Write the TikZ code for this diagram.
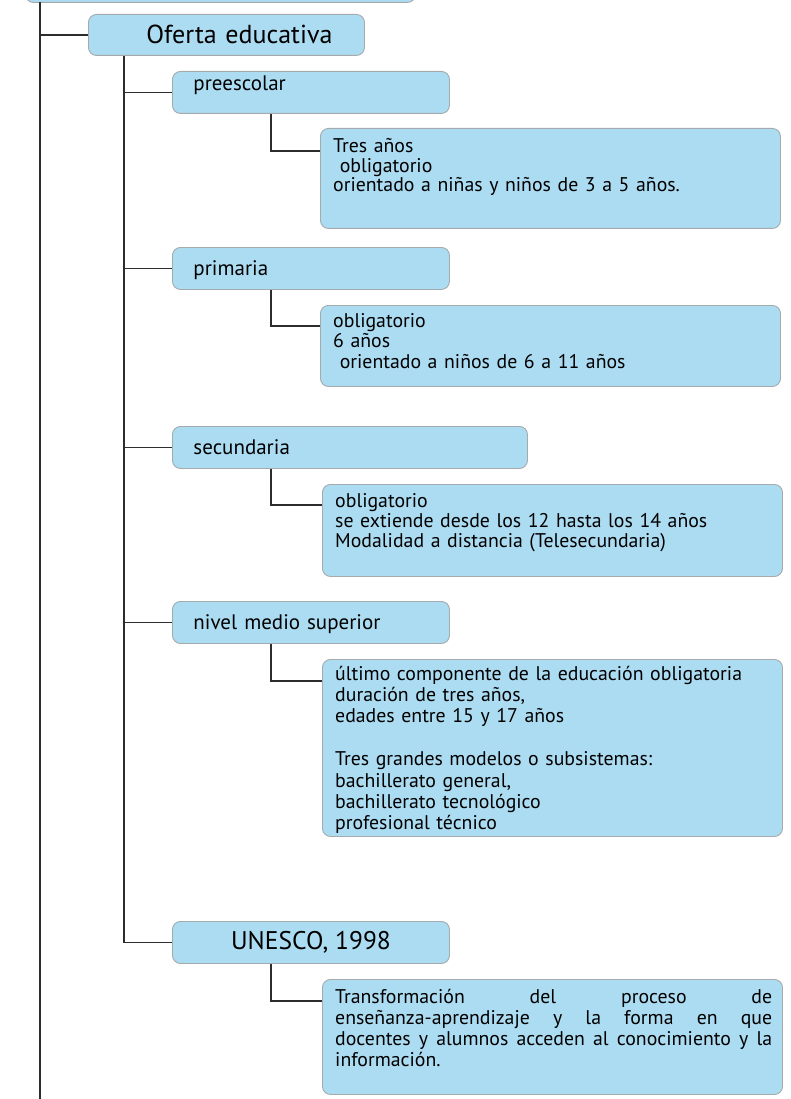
\documentclass[tikz,border=0pt]{standalone}
\usepackage{fontspec}
\setmainfont{PT Sans}

\definecolor{boxfill}{RGB}{172,220,242}
\definecolor{boxline}{RGB}{165,170,172}
\definecolor{linegray}{RGB}{45,45,45}

\begin{document}
\begin{tikzpicture}[x=1pt, y=-1pt,
    box/.style={draw=boxline, fill=boxfill, line width=0.9pt, rounded corners=8pt, anchor=north west},
    level/.style={box, inner xsep=21pt, inner ysep=0pt, text width=235pt, align=left,
        text height=28pt, text depth=14pt, font=\fontsize{21}{24}\selectfont},
    detail/.style={box, inner sep=0pt, minimum width=460pt},
    txt/.style={anchor=base west, inner sep=0pt, text width=445pt, align=left,
        font=\fontsize{19.8}{20.5}\selectfont},
    wire/.style={draw=linegray, line width=1.2pt}]

    \useasboundingbox (0,0) rectangle (790,1099);
    \clip (0,0) rectangle (790,1099);

    % top of the tree (cut off)
    \node[box, inner sep=0pt, minimum width=390pt, minimum height=42pt] (root) at (25,-40) {};

    \node[box, inner xsep=32pt, inner ysep=0pt, text width=212pt, align=right,
        text height=29pt, text depth=12pt, font=\fontsize{26}{30}\selectfont] (ofe) at (88,14) {Oferta educativa};

    % levels
    \node[level, text height=19pt, text depth=23pt] (pre) at (172,71) {preescolar};
    \node[level] (pri) at (172,247) {primaria};
    \node[level, text width=313pt] (sec) at (172,426) {secundaria};
    \node[level] (med) at (172,601) {nivel medio superior};
    \node[box, inner sep=0pt, minimum width=277pt, minimum height=42pt,
        font=\fontsize{25.5}{30}\selectfont] (unesco) at (172,921) {UNESCO, 1998};

    % details
    \node[detail, minimum height=100pt] (d1) at (320,128) {};
    \node[txt, font=\fontsize{19.8}{19.5}\selectfont] (t1) at ([shift={(13,25)}]d1.north west) {Tres años\\
        \ obligatorio\\
        orientado a niñas y niños de 3 a 5 años.};

    \node[detail, minimum height=81pt] (d2) at (320,305) {};
    \node[txt] (t2) at ([shift={(13,22)}]d2.north west) {obligatorio\\
        6 años\\
        \ orientado a niños de 6 a 11 años};

    \node[detail, minimum height=92pt] (d3) at (322,484) {};
    \node[txt, font=\fontsize{19.8}{20}\selectfont] (t3) at ([shift={(13,23)}]d3.north west) {obligatorio\\
        se extiende desde los 12 hasta los 14 años\\
        Modalidad a distancia (Telesecundaria)};

    \node[detail, minimum height=177pt] (d4) at (322,659) {};
    \node[txt, font=\fontsize{19.8}{21.4}\selectfont] (t4) at ([shift={(13,21)}]d4.north west) {último componente de la educación obligatoria\\
        duración de tres años,\\
        edades entre 15 y 17 años\\[21.4pt]
        Tres grandes modelos o subsistemas:\\
        bachillerato general,\\
        bachillerato tecnológico\\
        profesional técnico};

    \node[detail, minimum height=115pt] (d5) at (322,979) {};
    \node[txt, text width=437pt, align=justify, font=\fontsize{19.8}{21}\selectfont] (t5) at ([shift={(13,24)}]d5.north west) {Transformación del proceso de\linebreak
        enseñanza-aprendizaje y la forma en que\linebreak
        docentes y alumnos acceden al conocimiento y la\linebreak
        información.};

    % connectors
    \coordinate (trunktop) at (40,2);
    \coordinate (trunkend) at (40,1099);
    \coordinate (ofestem) at ([xshift=36pt]ofe.south west);

    \draw[wire] (trunktop) -- (trunkend);
    \draw[wire] (trunktop |- ofe.west) -- (ofe.west);

    \draw[wire] (ofestem) |- (unesco.west);
    \draw[wire] (ofestem |- pre.west) -- (pre.west);
    \draw[wire] (ofestem |- pri.west) -- (pri.west);
    \draw[wire] (ofestem |- sec.west) -- (sec.west);
    \draw[wire] (ofestem |- med.west) -- (med.west);

    \draw[wire] ([xshift=99pt]pre.south west) |- ([shift={(0,23)}]d1.north west);
    \draw[wire] ([xshift=99pt]pri.south west) |- ([shift={(0,21)}]d2.north west);
    \draw[wire] ([xshift=99pt]sec.south west) |- ([shift={(0,21)}]d3.north west);
    \draw[wire] ([xshift=99pt]med.south west) |- ([shift={(0,22)}]d4.north west);
    \draw[wire] ([xshift=99pt]unesco.south west) |- ([shift={(0,22)}]d5.north west);
\end{tikzpicture}
\end{document}
